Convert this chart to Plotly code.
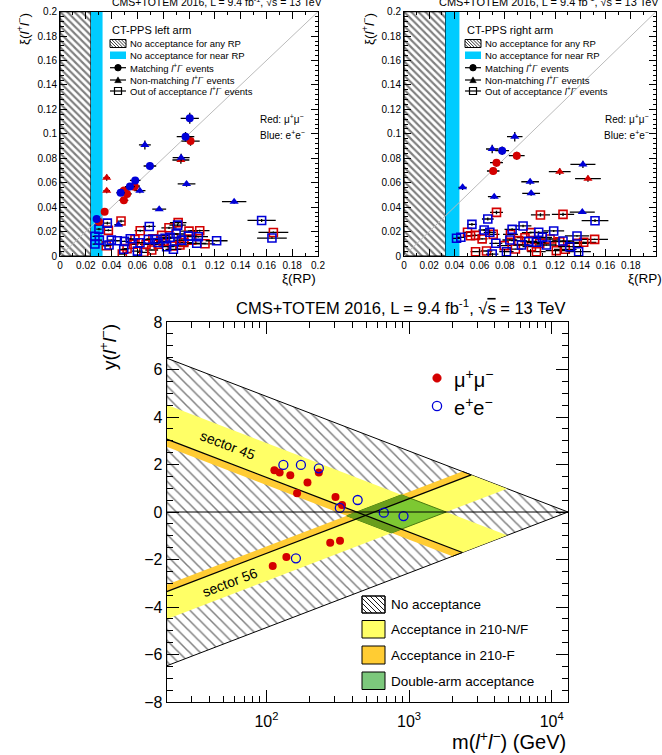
import math
import plotly.graph_objects as go

# ---------------- DATA ----------------
# acceptance limits per arm: [left arm / sector 45, right arm / sector 56]
xi_far = [0.024, 0.033]     # far RP lower edge
xi_near = [0.033, 0.044]    # near RP lower edge
xi_max = [0.14, 0.14]       # upper edge
sqrt_s = 13000.0            # GeV
mass_range = [20.0, 13000.0]

# left arm: xi(RP) vs xi(l+l-)
L_match_mm_x = [0.1012, 0.0578, 0.0490, 0.0520, 0.0576, 0.0495, 0.0346, 0.0302, 0.0496]
L_match_mm_y = [0.0941, 0.0573, 0.0527, 0.0508, 0.0566, 0.0456, 0.0363, 0.0281, 0.0536]
L_match_ee_x = [0.1006, 0.0973, 0.0697, 0.0583, 0.0542, 0.0470, 0.0284]
L_match_ee_y = [0.1127, 0.0977, 0.0737, 0.0619, 0.0568, 0.0518, 0.0303]
L_nonm_mm_x = [0.0937, 0.0362, 0.0362]
L_nonm_mm_y = [0.0786, 0.0641, 0.0535]
L_nonm_ee_x = [0.0658, 0.0939, 0.0619, 0.0981, 0.1350, 0.0769, 0.0453]
L_nonm_ee_y = [0.0909, 0.0805, 0.0535, 0.0590, 0.0445, 0.0383, 0.0256]
L_out_mm_x = [0.0473, 0.0375, 0.0359, 0.0483, 0.0622, 0.0788, 0.0845, 0.0916, 0.1000, 0.0581,
              0.0568, 0.0667, 0.0711, 0.0762, 0.0870, 0.0930, 0.1021, 0.1083, 0.1124, 0.1654,
              0.0650, 0.0800, 0.0880, 0.0960, 0.0720, 0.0520]
L_out_mm_y = [0.0286, 0.0210, 0.0084, 0.0016, 0.0207, 0.0169, 0.0231, 0.0273, 0.0204, 0.0136,
              0.0096, 0.0096, 0.0049, 0.0096, 0.0082, 0.0090, 0.0130, 0.0207, 0.0100, 0.0193,
              0.0030, 0.0120, 0.0150, 0.0110, 0.0140, 0.0060]
L_out_ee_x = [0.0367, 0.0302, 0.0271, 0.0305, 0.0271, 0.0398, 0.0444, 0.0380, 0.0494, 0.0545,
              0.0692, 0.0912, 0.0853, 0.0995, 0.0620, 0.0685, 0.0736, 0.0814, 0.0827, 0.0879,
              0.0943, 0.1072, 0.1060, 0.1214, 0.1563, 0.1643, 0.0600, 0.0760, 0.0900, 0.0500]
L_out_ee_y = [0.0269, 0.0220, 0.0161, 0.0130, 0.0098, 0.0130, 0.0125, 0.0090, 0.0055, 0.0141,
              0.0242, 0.0253, 0.0153, 0.0163, 0.0109, 0.0136, 0.0136, 0.0144, 0.0076, 0.0055,
              0.0130, 0.0158, 0.0104, 0.0125, 0.0291, 0.0147, 0.0040, 0.0110, 0.0180, 0.0120]

# right arm
R_match_mm_x = [0.0895, 0.0734, 0.0708]
R_match_mm_y = [0.0821, 0.0764, 0.0696]
R_match_ee_x = [0.0779]
R_match_ee_y = [0.0862]
R_nonm_mm_x = [0.1236, 0.1460]
R_nonm_mm_y = [0.0690, 0.0633]
R_nonm_ee_x = [0.0879, 0.0700, 0.0465, 0.1001, 0.1009, 0.0716, 0.1420, 0.1415]
R_nonm_ee_y = [0.0977, 0.0876, 0.0562, 0.0608, 0.0513, 0.0486, 0.0750, 0.0360]
R_out_mm_x = [0.0734, 0.1083, 0.1262, 0.0845, 0.1006, 0.0504, 0.0528, 0.0568, 0.0708, 0.0795,
              0.0911, 0.1011, 0.1159, 0.1236, 0.1376, 0.1426, 0.1513, 0.0568, 0.0655, 0.0884,
              0.1051, 0.1209, 0.1280, 0.1077, 0.0620, 0.0960]
R_out_mm_y = [0.0357, 0.0336, 0.0341, 0.0177, 0.0191, 0.0194, 0.0166, 0.0169, 0.0177, 0.0085,
              0.0126, 0.0076, 0.0139, 0.0117, 0.0104, 0.0112, 0.0136, 0.0035, 0.0041, 0.0057,
              0.0035, 0.0044, 0.0055, 0.0104, 0.0140, 0.0150]
R_out_ee_x = [0.1516, 0.0665, 0.0539, 0.0945, 0.0858, 0.0636, 0.1188, 0.1069, 0.0417, 0.0451,
              0.0681, 0.0729, 0.0840, 0.0932, 0.1051, 0.1098, 0.1262, 0.1373, 0.1386, 0.0700,
              0.0813, 0.1315, 0.1130, 0.0990]
R_out_ee_y = [0.0289, 0.0303, 0.0259, 0.0246, 0.0218, 0.0213, 0.0205, 0.0194, 0.0145, 0.0153,
              0.0194, 0.0104, 0.0131, 0.0090, 0.0112, 0.0153, 0.0123, 0.0164, 0.0035, 0.0016,
              0.0035, 0.0076, 0.0090, 0.0120]

# bottom: mass vs rapidity
mm_mass = [113.7, 123.8, 147, 194, 233, 164, 305, 339, 110.7, 138, 280, 328]
mm_rap = [1.76, 1.66, 1.55, 1.24, 1.66, 0.79, 0.63, 0.29, -2.27, -1.89, -1.29, -1.21]
ee_mass = [131.5, 174.5, 233, 436, 327, 665, 914, 161]
ee_rap = [1.98, 1.98, 1.84, 0.505, 0.17, -0.03, -0.17, -1.95]

# ---------------- STYLE ----------------
W, H = 662, 755
FONT = "Liberation Sans, Arial, Helvetica, sans-serif"
RED = "#D40000"
BLUE = "#0000D8"
CYAN = "#00CCFF"
YELLOW = "#FFFF66"
ORANGE = "#FFCC33"
GREEN = "#7DC832"
DGREEN = "#6A9E1C"
LGREEN = "#7CC87C"


def px(x):
    return x / W


def py(y):
    return 1 - y / H


fig = go.Figure()
shapes = []
annots = []

# ---------------- TOP PANELS ----------------
panels = [
    dict(xa="x", ya="y", arm=0,
         data=[(L_out_mm_x, L_out_mm_y, RED, "square-open"), (L_out_ee_x, L_out_ee_y, BLUE, "square-open"),
               (L_nonm_mm_x, L_nonm_mm_y, RED, "triangle-up"), (L_nonm_ee_x, L_nonm_ee_y, BLUE, "triangle-up"),
               (L_match_mm_x, L_match_mm_y, RED, "circle"), (L_match_ee_x, L_match_ee_y, BLUE, "circle")]),
    dict(xa="x2", ya="y2", arm=1,
         data=[(R_out_mm_x, R_out_mm_y, RED, "square-open"), (R_out_ee_x, R_out_ee_y, BLUE, "square-open"),
               (R_nonm_mm_x, R_nonm_mm_y, RED, "triangle-up"), (R_nonm_ee_x, R_nonm_ee_y, BLUE, "triangle-up"),
               (R_match_mm_x, R_match_mm_y, RED, "circle"), (R_match_ee_x, R_match_ee_y, BLUE, "circle")]),
]
XMAX = 0.2
for p in panels:
    a = p["arm"]
    f, n = xi_far[a], xi_near[a]
    fig.add_trace(go.Scatter(
        x=[0, f, f, 0, 0], y=[0, 0, XMAX, XMAX, 0], xaxis=p["xa"], yaxis=p["ya"],
        mode="lines", fill="toself", fillcolor="white",
        fillpattern=dict(shape="\\", fgcolor="black", bgcolor="white", size=5, solidity=0.42),
        line=dict(color="black", width=1.2), hoverinfo="skip", showlegend=False))
    fig.add_trace(go.Scatter(
        x=[f, n, n, f, f], y=[0, 0, XMAX, XMAX, 0], xaxis=p["xa"], yaxis=p["ya"],
        mode="lines", fill="toself", fillcolor=CYAN, line=dict(width=0),
        hoverinfo="skip", showlegend=False))
    fig.add_trace(go.Scatter(
        x=[0, XMAX], y=[0, XMAX], xaxis=p["xa"], yaxis=p["ya"], mode="lines",
        line=dict(color="#BBBBBB", width=1), hoverinfo="skip", showlegend=False))
    for xs, ys, col, sym in p["data"]:
        open_ = sym.endswith("open")
        fig.add_trace(go.Scatter(
            x=xs, y=ys, xaxis=p["xa"], yaxis=p["ya"], mode="markers",
            marker=dict(symbol=sym, color=col, size=8,
                        line=dict(color=col, width=1.6 if open_ else 0)),
            error_x=dict(type="percent", value=7, color="black", thickness=1.3, width=0),
            error_y=dict(type="percent", value=4, color="black", thickness=1.3, width=0),
            hoverinfo="skip", showlegend=False))

# ---------------- BOTTOM PANEL ----------------
mL = mass_range[0]


def band(a, b, sign):
    ms = [mL, sqrt_s * math.sqrt(a), sqrt_s * math.sqrt(b), mL, mL]
    ys = [math.log(a * sqrt_s / mL), 0.5 * math.log(a), 0.5 * math.log(b),
          math.log(b * sqrt_s / mL), math.log(a * sqrt_s / mL)]
    return ms, [sign * v for v in ys]


def dbl(a1, b1, a2, b2):
    corners = [(a1, a2), (b1, a2), (b1, b2), (a1, b2), (a1, a2)]
    ms = [sqrt_s * math.sqrt(u * v) for u, v in corners]
    ys = [0.5 * math.log(u / v) for u, v in corners]
    return ms, ys


def poly(ms, ys, color, lw=0, lc="black", pattern=None):
    kw = {}
    if pattern:
        kw["fillpattern"] = pattern
    fig.add_trace(go.Scatter(x=ms, y=ys, xaxis="x3", yaxis="y3", mode="lines", fill="toself",
                             fillcolor=color, line=dict(width=lw, color=lc),
                             hoverinfo="skip", showlegend=False, **kw))


ymax_left = math.log(sqrt_s / mL)
poly([mL, sqrt_s, mL, mL], [ymax_left, 0, -ymax_left, ymax_left], "white", lw=1,
     pattern=dict(shape="\\", fgcolor="black", bgcolor="white", size=7.5, solidity=0.2))
for sign, a in ((1, 0), (-1, 1)):
    poly(*band(xi_near[a], xi_max[a], sign), YELLOW)
    poly(*band(xi_far[a], xi_near[a], sign), ORANGE)
poly(*dbl(xi_far[0], xi_max[0], xi_far[1], xi_max[1]), GREEN, lw=1, lc="#4A7A10")
poly(*dbl(xi_far[0], xi_near[0], xi_far[1], xi_max[1]), DGREEN)
poly(*dbl(xi_far[0], xi_max[0], xi_far[1], xi_near[1]), DGREEN)
# black lines along the near-RP acceptance boundaries
for sign, a in ((1, 0), (-1, 1)):
    xn = xi_near[a]
    fig.add_trace(go.Scatter(x=[mL, sqrt_s * math.sqrt(xn)],
                             y=[sign * math.log(xn * sqrt_s / mL), sign * 0.5 * math.log(xn)],
                             xaxis="x3", yaxis="y3", mode="lines", line=dict(color="black", width=1.3),
                             hoverinfo="skip", showlegend=False))
    xf = xi_far[a]
    fig.add_trace(go.Scatter(x=[sqrt_s * math.sqrt(xf), sqrt_s * math.sqrt(xn)],
                             y=[sign * 0.5 * math.log(xf), sign * 0.5 * math.log(xn)],
                             xaxis="x3", yaxis="y3", mode="lines", line=dict(color="black", width=1),
                             hoverinfo="skip", showlegend=False))
shapes.append(dict(type="line", xref="x3 domain", yref="y3", x0=0, x1=1, y0=0, y1=0,
                   line=dict(color="black", width=1.2), layer="above"))

fig.add_trace(go.Scatter(x=mm_mass, y=mm_rap, xaxis="x3", yaxis="y3", mode="markers",
                         marker=dict(symbol="circle", size=8, color=RED), hoverinfo="skip",
                         showlegend=False))
fig.add_trace(go.Scatter(x=ee_mass, y=ee_rap, xaxis="x3", yaxis="y3", mode="markers",
                         marker=dict(symbol="circle-open", size=9, color=BLUE, line=dict(width=1.3)),
                         hoverinfo="skip", showlegend=False))

annots.append(dict(text="sector 45", x=math.log10(53.5), y=2.82, xref="x3", yref="y3",
                   showarrow=False, textangle=21, font=dict(family=FONT, size=14, color="black")))
annots.append(dict(text="sector 56", x=math.log10(56), y=-2.95, xref="x3", yref="y3",
                   showarrow=False, textangle=-21, font=dict(family=FONT, size=14, color="black")))


# ---------------- legends & texts (decorations) ----------------
def text(x, y, t, size, xanchor="left", yanchor="middle", angle=0):
    annots.append(dict(text=t, x=px(x), y=py(y), xref="paper", yref="paper", showarrow=False,
                       xanchor=xanchor, yanchor=yanchor, textangle=angle,
                       font=dict(family=FONT, size=size, color="black")))


def rect(x0, y0, x1, y1, fill, lw=1):
    shapes.append(dict(type="rect", xref="paper", yref="paper", x0=px(x0), x1=px(x1),
                       y0=py(y1), y1=py(y0), fillcolor=fill,
                       line=dict(color="black", width=lw), layer="above"))


def hatch(x0, y0, x1, y1, step, lw=1):
    segs = []
    c = x0 - y1
    while c < x1 - y0:
        sx, sy = y0 + c, y0
        if sx < x0:
            sx, sy = x0, x0 - c
        ex, ey = y1 + c, y1
        if ex > x1:
            ex, ey = x1, x1 - c
        if ex > sx:
            segs.append("M%.5f,%.5f L%.5f,%.5f" % (px(sx), py(sy), px(ex), py(ey)))
        c += step
    shapes.append(dict(type="path", xref="paper", yref="paper", path=" ".join(segs),
                       line=dict(color="black", width=lw), layer="above"))
    rect(x0, y0, x1, y1, "rgba(0,0,0,0)")


def seg(x0, y0, x1, y1, lw=1.2, color="black"):
    shapes.append(dict(type="line", xref="paper", yref="paper", x0=px(x0), y0=py(y0),
                       x1=px(x1), y1=py(y1), line=dict(color=color, width=lw), layer="above"))


def circ(cx, cy, r, fill, lc, lw=1):
    shapes.append(dict(type="circle", xref="paper", yref="paper", x0=px(cx - r), x1=px(cx + r),
                       y0=py(cy + r), y1=py(cy - r), fillcolor=fill,
                       line=dict(color=lc, width=lw), layer="above"))


def tri(cx, cy, s):
    path = "M%.5f,%.5f L%.5f,%.5f L%.5f,%.5f Z" % (px(cx - s), py(cy + s * 0.8), px(cx + s),
                                                 py(cy + s * 0.8), px(cx), py(cy - s * 0.95))
    shapes.append(dict(type="path", xref="paper", yref="paper", path=path, fillcolor="black",
                       line=dict(color="black", width=0.5), layer="above"))


TITLE = ("CMS+TOTEM 2016, L = 9.4 fb<sup>-1</sup>, "
         "√<span style='text-decoration:overline'>s</span> = 13 TeV")
LL = "<i>l</i><sup>+</sup><i>l</i><sup>−</sup>"

for x0, name, tsize, tx, xr, ytx in ((110, "CT-PPS left arm", 10.5, 110, 318, 23),
                                      (465, "CT-PPS right arm", 11, 437, 664, 368)):
    text(tx, 1.5, TITLE, tsize)
    text(ytx, 11, "ξ(" + LL + ")", 13.5, xanchor="center", yanchor="top", angle=-90)
    text(xr, 269, "ξ(RP)", 13.5, xanchor="right", yanchor="top")
    text(x0, 30, name, 11)
    hatch(x0, 39.5, x0 + 16, 47.5, 3.2, lw=0.8)
    text(x0 + 18, 43.5, "No acceptance for any RP", 9.5)
    rect(x0, 51.5, x0 + 16, 59, CYAN, lw=0)
    text(x0 + 18, 55.5, "No acceptance for near RP", 9.5)
    seg(x0, 67.7, x0 + 16, 67.7)
    circ(x0 + 8, 67.7, 3.2, "black", "black")
    text(x0 + 18, 68, "Matching " + LL + " events", 9.5)
    seg(x0, 80, x0 + 16, 80)
    tri(x0 + 8, 80, 3.3)
    text(x0 + 18, 80, "Non-matching " + LL + " events", 9.5)
    seg(x0, 91, x0 + 16, 91)
    rect(x0 + 4.5, 87.5, x0 + 11.5, 94.5, "white", lw=1.2)
    seg(x0 + 4.5, 91, x0 + 11.5, 91)
    text(x0 + 18, 91, "Out of acceptance " + LL + " events", 9.5)

text(258, 119, "Red: μ<sup>+</sup>μ<sup>−</sup>", 10)
text(258, 135, "Blue: e<sup>+</sup>e<sup>−</sup>", 10)
text(603, 119, "Red: μ<sup>+</sup>μ<sup>−</sup>", 10)
text(602, 135, "Blue: e<sup>+</sup>e<sup>−</sup>", 10)

# bottom texts
text(568, 307, TITLE, 16.5, xanchor="right")
text(568, 740, "m(" + LL + ") (GeV)", 20, xanchor="right")
text(108, 322, "y(" + LL + ")", 19, xanchor="center", yanchor="top", angle=-90)

circ(437, 378, 4.3, RED, RED, 0.5)
text(452, 378, "μ<sup>+</sup>μ<sup>−</sup>", 20)
circ(437, 406, 4.6, "rgba(0,0,0,0)", BLUE, 1.3)
text(452, 406, "e<sup>+</sup>e<sup>−</sup>", 20)

rect(362, 596, 385, 613, "white")
hatch(362, 596, 385, 613, 5, lw=0.9)
text(389, 604, "No acceptance", 13.5)
rect(362, 620.5, 385, 638, YELLOW)
text(389, 629, "Acceptance in 210-N/F", 13.5)
rect(362, 646, 385, 664, ORANGE)
text(389, 655, "Acceptance in 210-F", 13.5)
rect(362, 672, 385, 689.5, LGREEN)
text(389, 681, "Double-arm acceptance", 13.5)


# ---------------- AXES ----------------
def lin_axis(domain, anchor, dtick, minor_dtick, size=10, ticklen=7):
    return dict(domain=domain, anchor=anchor, range=[0, XMAX], dtick=dtick, tick0=0,
                ticks="inside", ticklen=ticklen, tickwidth=1, tickcolor="black",
                minor=dict(ticks="inside", ticklen=ticklen / 2, dtick=minor_dtick, tickcolor="black",
                           showgrid=False),
                showline=True, linecolor="black", linewidth=1, mirror="allticks",
                showgrid=False, zeroline=False, automargin=False,
                tickfont=dict(family=FONT, size=size, color="black"))


top_y = [py(256), py(11.7)]
layout = dict(
    width=W, height=H, margin=dict(l=0, r=0, t=0, b=0, autoexpand=False),
    paper_bgcolor="white", plot_bgcolor="white", showlegend=False,
    xaxis=lin_axis([px(60), px(318)], "y", 0.02, 0.01),
    yaxis=lin_axis(top_y, "x", 0.02, 0.004),
    xaxis2=lin_axis([px(404), px(656)], "y2", 0.02, 0.01),
    yaxis2=lin_axis(top_y, "x2", 0.02, 0.004),
    xaxis3=dict(domain=[px(166.7), px(568)], anchor="y3", type="log",
                range=[math.log10(mass_range[0]), math.log10(mass_range[1])],
                tickmode="array", tickvals=[100, 1000, 10000],
                ticktext=["10<sup>2</sup>", "10<sup>3</sup>", "10<sup>4</sup>"],
                ticks="inside", ticklen=12, tickcolor="black",
                minor=dict(ticks="inside", ticklen=6, tickcolor="black", tickmode="array",
                           tickvals=[20, 30, 40, 50, 60, 70, 80, 90, 200, 300, 400, 500, 600, 700,
                                     800, 900, 2000, 3000, 4000, 5000, 6000, 7000, 8000, 9000]),
                showline=True, linecolor="black", linewidth=1, mirror="allticks",
                showgrid=False, zeroline=False, ticklabelstandoff=5, automargin=False,
                tickfont=dict(family=FONT, size=16, color="black")),
    yaxis3=dict(domain=[py(702), py(322)], anchor="x3", range=[-8, 8], dtick=2, tick0=0,
                ticks="inside", ticklen=12, tickcolor="black",
                minor=dict(ticks="inside", ticklen=6, dtick=0.5, tickcolor="black"),
                showline=True, linecolor="black", linewidth=1, mirror="allticks",
                showgrid=False, zeroline=False, automargin=False,
                tickfont=dict(family=FONT, size=16, color="black")),
    shapes=shapes, annotations=annots,
)
fig.update_layout(**layout)
fig.write_html("out.html", config={"displayModeBar": False},
               post_script="document.body.style.margin='0px';document.body.style.overflow='hidden';")
